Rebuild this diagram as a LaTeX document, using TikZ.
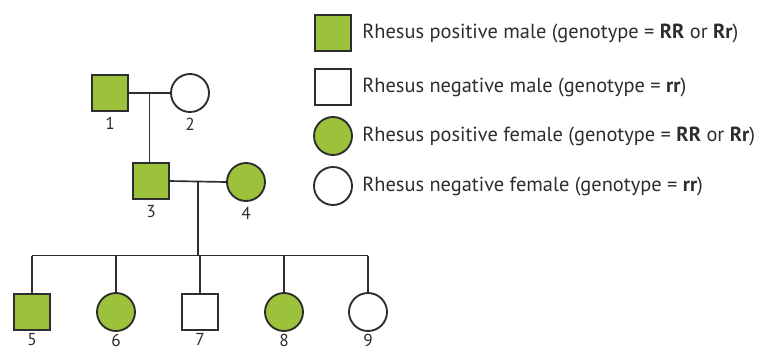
\documentclass[tikz,border=0pt]{standalone}
\usepackage{fontspec}
\setmainfont{PT Sans}
\usetikzlibrary{positioning, calc}
\definecolor{rhgreen}{RGB}{155,194,58}
\definecolor{rhdark}{RGB}{45,45,45}
\tikzset{
  male/.style={rectangle, draw=rhdark, minimum size=27pt, inner sep=0pt,
    line width=1.4pt},
  female/.style={circle, draw=rhdark, minimum size=28.5pt, inner sep=0pt,
    line width=1.4pt},
  rhpos/.style={fill=rhgreen},
  rhneg/.style={fill=white},
  tag/.style={font=\fontsize{13}{13}\selectfont, text=rhdark, inner sep=0.5pt},
  keytext/.style={font=\fontsize{15.3}{15.3}\selectfont, text=rhdark, anchor=west,
    inner sep=0pt},
  line/.style={line width=1.25pt, color=rhdark}
}

\begin{document}
\begin{tikzpicture}[x=0.75pt, y=-0.75pt]
  \useasboundingbox (0,0) rectangle (780,351);

  % Grandparents
  \node[male, rhpos] (n1) at (110,93) {};
  \node[female, rhneg] (n2) at (190,93) {};
  \node[tag, below=3pt of n1] (t1) {1};
  \node[tag, below=3pt of n2] (t2) {2};

  % Parents
  \node[male, rhpos] (n3) at (151,181) {};
  \node[female, rhpos] (n4) at (246,182) {};
  \node[tag, below=3pt of n3] (t3) {3};
  \node[tag, below=3pt of n4] (t4) {4};

  % Children
  \node[male, rhpos] (n5) at (32,312) {};
  \node[female, rhpos] (n6) at (116,312) {};
  \node[male, rhneg] (n7) at (200,312) {};
  \node[female, rhpos] (n8) at (284,312) {};
  \node[female, rhneg] (n9) at (368,312) {};
  \foreach \i in {5,...,9}
    \node[tag, below=1pt of n\i] (t\i) {\i};

  % Marriage and descent lines
  \coordinate (m12) at ($(n1.east)!0.5!(n2.west)$);
  \coordinate (m34) at ($(n3.east)!0.5!(n4.west)$);
  \coordinate (sib) at ($(m34)+(0,74)$);
  \draw[line] (n1.east) -- (n2.west);
  \draw[line] (m12) -- (m12 |- n3.north);
  \draw[line] (n3.east) -- (n4.west);
  \draw[line] (m34) -- (sib);
  \draw[line] (sib -| n5) -- (sib -| n9);
  \foreach \i in {5,...,9}
    \draw[line] (sib -| n\i) -- (n\i.north);

  % Key
  \node[male, rhpos] (k1) at (333,33) {};
  \node[male, rhneg] (k2) at (333,87) {};
  \node[female, rhpos] (k3) at (333,136) {};
  \node[female, rhneg] (k4) at (333,186) {};
  \node[keytext] (l1) at (362,33) {Rhesus positive male (genotype = \textbf{RR} or \textbf{Rr})};
  \node[keytext] (l2) at (362,87) {Rhesus negative male (genotype = \textbf{rr})};
  \node[keytext] (l3) at (362,136) {Rhesus positive female (genotype = \textbf{RR} or \textbf{Rr})};
  \node[keytext] (l4) at (362,186) {Rhesus negative female (genotype = \textbf{rr})};
\end{tikzpicture}
\end{document}
